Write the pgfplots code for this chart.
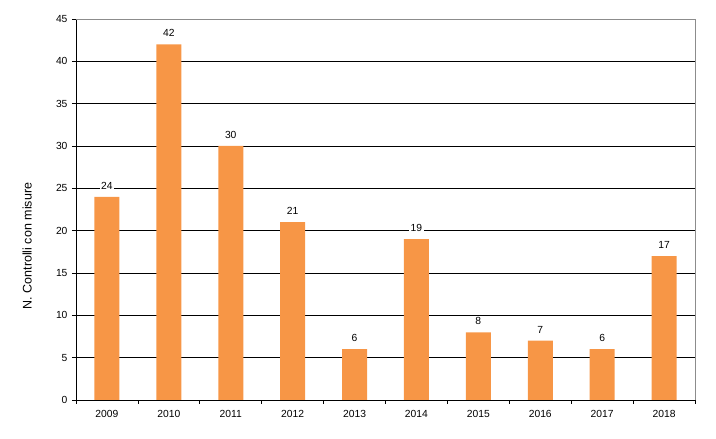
\documentclass[border=0pt]{standalone}
\usepackage{fontspec}
\setmainfont{Liberation Sans}
\usepackage{pgfplots}
\pgfplotsset{compat=1.18}
\definecolor{barorange}{RGB}{247,150,70}
\definecolor{frame}{RGB}{140,140,140}
\begin{document}
\fontsize{10}{12}\selectfont
\begin{tikzpicture}
\path (-76pt,-39pt) rectangle (640pt,400pt);
\begin{axis}[
  at={(0,0)}, anchor=south west,
  scale only axis,
  width=619pt, height=381pt,
  xmin=-0.5, xmax=9.5,
  ymin=0, ymax=45,
  axis lines*=left,
  axis line style={black, line width=0.8pt},
  xtick={0,...,9},
  xticklabels={2009,2010,2011,2012,2013,2014,2015,2016,2017,2018},
  minor xtick={-0.5,0.5,...,9.5},
  ytick={0,5,...,45},
  tick align=outside,
  major x tick style={draw=none},
  minor x tick style={black, line width=0.8pt},
  y tick style={black, line width=0.8pt},
  major tick length=4pt, minor tick length=4pt,
  ymajorgrids,
  major grid style={black, line width=0.8pt},
  xticklabel style={yshift=-3pt},
  yticklabel style={xshift=-1pt},
  ylabel={N. Controlli con misure},
  ylabel style={at={(axis description cs:-0.079,0.404)}, anchor=center, rotate=0},
  /pgf/number format/assume math mode=true,
  ticklabel style={font=\fontsize{10.3}{12}\selectfont},
  label style={font=\fontsize{12.5}{14}\selectfont},
  clip=false,
]
\addplot[ybar, bar width=25pt, fill=barorange, draw=none,
  nodes near coords,
  every node near coord/.append style={font=\fontsize{10.3}{12}\selectfont, fill=white, inner sep=1.5pt, anchor=south, yshift=6pt},
  /pgf/number format/assume math mode=true]
  coordinates {(0,24) (1,42) (2,30) (3,21) (4,6) (5,19) (6,8) (7,7) (8,6) (9,17)};
\draw[frame, line width=0.8pt] (rel axis cs:0,1) -- (rel axis cs:1,1) -- (rel axis cs:1,0);
\end{axis}
\end{tikzpicture}
\end{document}
